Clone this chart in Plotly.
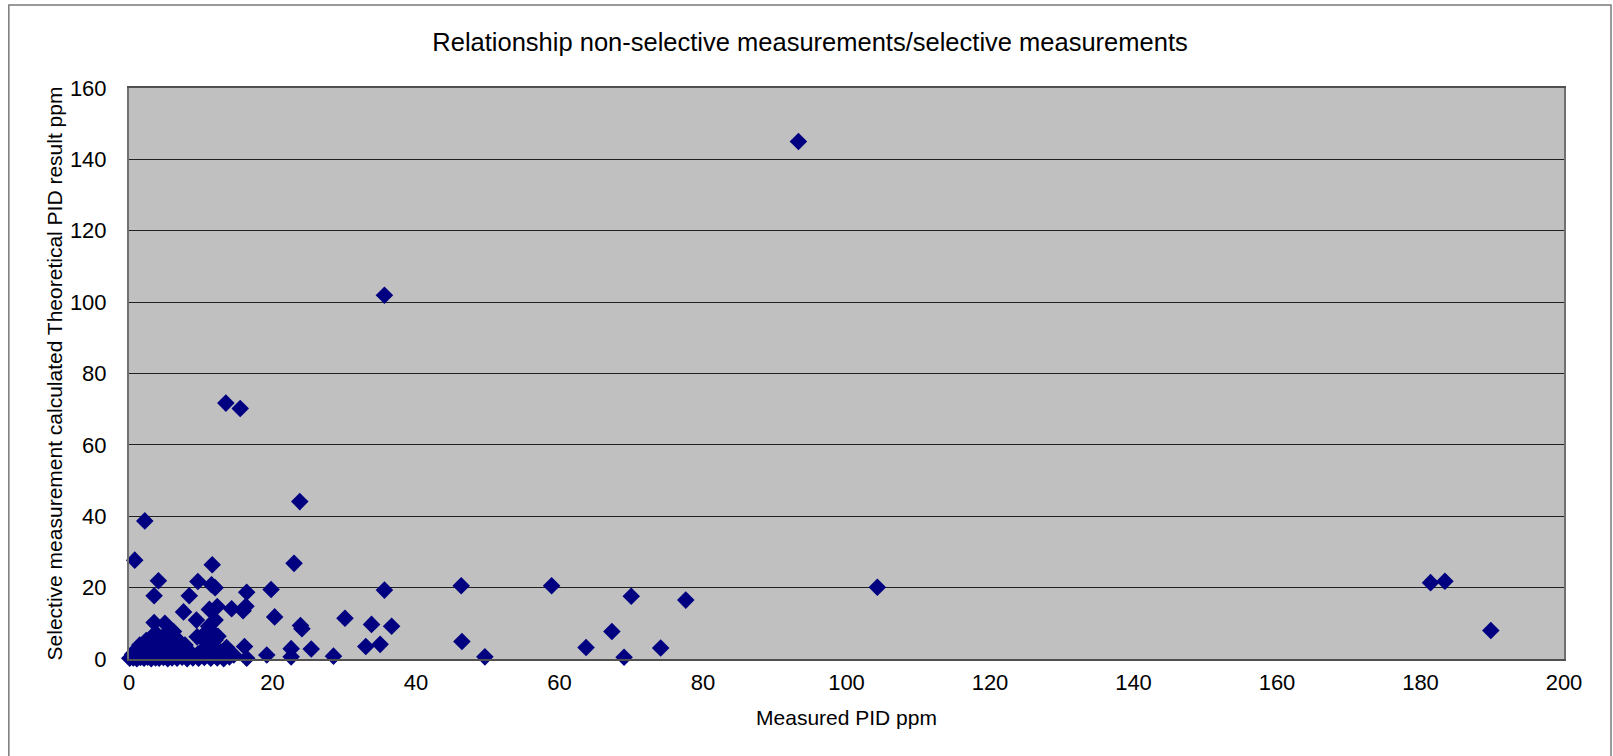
import plotly.graph_objects as go

# Measured PID ppm (x) and selective-measurement theoretical PID result ppm (y)
outlier_x = [93.3, 35.6, 13.5, 15.5, 23.8, 2.2, 0.8, 11.6, 23.0, 104.3, 181.4, 183.4, 189.8]
outlier_y = [145.0, 101.9, 71.7, 70.2, 44.1, 38.7, 27.7, 26.4, 26.8, 20.1, 21.4, 21.8, 8.0]

mid_x = [4.1, 9.6, 11.5, 12.0, 3.5, 8.4, 16.4, 19.8, 35.6, 46.3, 58.9, 70.0, 77.6,
         30.1, 33.8, 36.6, 33.0, 35.0, 46.4, 49.6, 63.7, 67.3, 69.0, 74.1, 28.5,
         7.6, 9.4, 11.2, 12.3, 14.3, 15.9, 16.3, 20.3, 23.9, 24.1, 3.5, 5.0, 11.1,
         12.0, 10.6, 9.5, 12.0, 16.1, 19.2, 22.6, 22.6, 25.4, 16.4, 14.6, 6.2, 11.3]
mid_y = [21.9, 21.7, 20.8, 20.0, 17.7, 17.7, 18.7, 19.5, 19.3, 20.5, 20.5, 17.6, 16.5,
         11.4, 9.7, 9.2, 3.5, 4.1, 4.9, 0.6, 3.2, 7.7, 0.5, 3.1, 0.8,
         13.2, 10.9, 13.9, 14.7, 14.1, 13.5, 14.8, 11.8, 9.4, 8.5, 10.2, 10.0, 9.2,
         10.9, 7.2, 6.2, 5.3, 3.5, 1.1, 2.9, 0.6, 2.8, 0.2, 1.1, 7.7, 8.1]

low_x = [0.1, 0.6, 1.1, 1.6, 2.1, 2.6, 3.1, 3.7, 4.2, 4.8, 5.4, 6.0, 6.7, 7.4, 8.1, 8.9, 9.7, 10.5, 11.4, 12.3, 13.2,
         0.5, 1.0, 1.6, 2.2, 2.8, 3.4, 4.0, 4.6, 5.2, 5.9, 6.6, 7.3, 8.0, 8.8, 9.6,
         1.0, 1.6, 2.3, 2.9, 3.5, 4.1, 4.8, 5.4, 6.0, 6.7, 7.4, 8.2,
         1.5, 2.2, 2.9, 3.6, 4.3, 5.0, 5.7, 6.4, 7.1, 7.8,
         2.4, 3.1, 3.8, 4.5, 5.2, 6.0, 6.8,
         3.3, 4.0, 4.8, 5.6, 6.3,
         12.8, 13.6, 11.5, 10.2, 14.0, 10.9, 12.4]
low_y = [0.2, 0.3, 0.1, 0.4, 0.2, 0.5, 0.1, 0.3, 0.2, 0.4, 0.1, 0.3, 0.2, 0.5, 0.1, 0.3, 0.2, 0.4, 0.2, 0.3, 0.1,
         1.3, 1.5, 1.2, 1.4, 1.3, 1.6, 1.2, 1.4, 1.3, 1.5, 1.2, 1.4, 1.3, 1.1, 1.4,
         2.6, 2.8, 2.5, 2.7, 2.6, 2.9, 2.5, 2.7, 2.6, 2.8, 2.4, 2.6,
         3.9, 4.1, 3.8, 4.0, 3.9, 4.2, 3.8, 4.0, 3.7, 3.9,
         5.2, 5.4, 5.1, 5.3, 5.2, 5.0, 5.3,
         6.5, 6.7, 6.4, 6.6, 6.3,
         2.0, 3.2, 3.6, 2.4, 0.6, 4.4, 6.4]

xs = outlier_x + mid_x + low_x
ys = outlier_y + mid_y + low_y

PLOT_L, PLOT_R, PLOT_T, PLOT_B = 128.7, 1564.0, 88.0, 659.0
W, H = 1613, 756
pw, ph = PLOT_R - PLOT_L, PLOT_B - PLOT_T


def px_x(p):
    return (p - PLOT_L) / pw


def px_y(p):
    return (PLOT_B - p) / ph


fig = go.Figure()
fig.add_trace(go.Scatter(
    x=xs, y=ys, mode="markers", cliponaxis=False,
    marker=dict(symbol="diamond", size=13.5, color="#000080", line=dict(width=0)),
    showlegend=False, hoverinfo="x+y",
))

font = "Liberation Sans, Arial, sans-serif"
fig.update_layout(
    width=W, height=H,
    margin=dict(l=PLOT_L, r=W - PLOT_R, t=PLOT_T, b=H - PLOT_B, pad=0, autoexpand=False),
    paper_bgcolor="white", plot_bgcolor="#C0C0C0",
    font=dict(family=font, size=22, color="black"),
    title=dict(text="Relationship non-selective measurements/selective measurements",
               x=810 / W, xanchor="center", y=1 - 42 / H, yanchor="middle",
               font=dict(size=25.5)),
    xaxis=dict(range=[0, 200], tickvals=[0, 20, 40, 60, 80, 100, 120, 140, 160, 180, 200],
               showgrid=False, zeroline=False, showline=True, linecolor="#505050", linewidth=2,
               mirror=True, ticks="outside", ticklen=3, tickcolor="rgba(0,0,0,0)",
               tickfont=dict(size=22), automargin=False,
               title=dict(text="Measured PID ppm", font=dict(size=21), standoff=16)),
    yaxis=dict(range=[0, 160], tickvals=[0, 20, 40, 60, 80, 100, 120, 140, 160],
               showgrid=True, gridcolor="#202020", gridwidth=1.2, zeroline=False,
               showline=True, linecolor="#707070", linewidth=2, mirror=True,
               ticks="outside", ticklen=16, tickcolor="rgba(0,0,0,0)",
               tickfont=dict(size=22), automargin=False,
               title=dict(text="Selective measurement calculated Theoretical PID result ppm",
                          font=dict(size=21), standoff=2)),
    shapes=[dict(type="rect", xref="paper", yref="paper",
                 x0=px_x(8.5), x1=px_x(1611), y0=px_y(770), y1=px_y(5),
                 line=dict(color="#7a7a7a", width=1.5), fillcolor="rgba(0,0,0,0)", layer="below")],
)

fig.write_html("out.html", config={"displayModeBar": False},
               post_script="document.body.style.margin='0px';")
